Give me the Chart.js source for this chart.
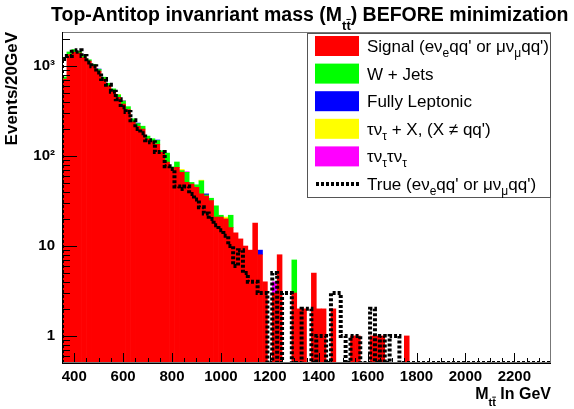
<!DOCTYPE html>
<html>
<head>
<meta charset="utf-8">
<script src="https://cdn.jsdelivr.net/npm/chart.js@4.4.1/dist/chart.umd.min.js"></script>
<style>
  body { margin: 0; background: #fff; }
  canvas { display: block; }
</style>
</head>
<body>
<canvas id="chart" width="574" height="409"></canvas>
<script>
// histogram: 100 bins of 20 GeV, 350 -> 2350
const nBins = 100;
const xMin = 350;
const binWidth = 20;

const signal = [
  720, 1350, 1430, 1400, 1250, 1140, 1000, 880, 720, 600,
  530, 450, 380, 330, 240, 215, 200, 155, 146, 135,
  110, 86, 72, 75, 66, 51, 49, 45, 38, 36,
  32, 21, 21, 20, 16, 14, 12, 10, 9, 18,
  8, 4, 0, 3, 8, 0, 0, 3, 2, 2,
  0, 5, 2, 2, 0, 2, 0, 0, 0, 1,
  1, 0, 0, 1, 1, 1, 0, 0, 0, 0,
  1, 0, 0, 0, 0, 0, 0, 0, 0, 0,
  0, 0, 0, 0, 0, 0, 0, 0, 0, 0,
  0, 0, 0, 0, 0, 0, 0, 0, 0, 0
];
const wJets = [
  40, 90, 100, 60, 50, 40, 50, 40, 35, 45,
  30, 30, 30, 25, 20, 15, 15, 12, 10, 14,
  5, 22, 4, 11, 3, 15, 2, 3, 15, 1,
  2, 7, 1, 0, 6, 0, 0, 0, 0, 0,
  0, 0, 0, 0, 0, 0, 0, 4, 0, 0,
  0, 0, 0, 0, 0, 0, 0, 0, 0, 0,
  0, 0, 0, 0, 0, 0, 0, 0, 0, 0,
  0, 0, 0, 0, 0, 0, 0, 0, 0, 0,
  0, 0, 0, 0, 0, 0, 0, 0, 0, 0,
  0, 0, 0, 0, 0, 0, 0, 0, 0, 0
];
const fullyLep = [
  0, 0, 0, 0, 0, 0, 0, 10, 0, 0,
  0, 0, 0, 0, 0, 3, 0, 0, 0, 2,
  0, 0, 0, 0, 0, 0, 0, 0, 0, 1,
  0, 0, 0, 0, 0, 0, 0, 0, 0, 0,
  1, 0, 0, 0, 0, 0, 0, 0, 0, 0,
  0, 0, 0, 0, 0, 0, 0, 0, 0, 0,
  0, 0, 0, 0, 0, 0, 0, 0, 0, 0,
  0, 0, 0, 0, 0, 0, 0, 0, 0, 0,
  0, 0, 0, 0, 0, 0, 0, 0, 0, 0,
  0, 0, 0, 0, 0, 0, 0, 0, 0, 0
];
const tauX = [
  0, 0, 0, 0, 0, 0, 0, 0, 0, 0,
  0, 5, 0, 0, 0, 0, 0, 0, 0, 0,
  0, 0, 0, 0, 2, 0, 0, 0, 1, 0,
  0, 0, 0, 1, 0, 0, 0, 0, 0, 0,
  0, 0, 0, 0, 0, 0, 0, 0, 0, 0,
  0, 0, 0, 0, 0, 0, 0, 0, 0, 0,
  0, 0, 0, 0, 0, 0, 0, 0, 0, 0,
  0, 0, 0, 0, 0, 0, 0, 0, 0, 0,
  0, 0, 0, 0, 0, 0, 0, 0, 0, 0,
  0, 0, 0, 0, 0, 0, 0, 0, 0, 0
];
const tauTau = [
  0, 0, 0, 0, 0, 0, 0, 0, 0, 0,
  0, 0, 4, 0, 0, 0, 0, 0, 0, 0,
  0, 0, 0, 0, 0, 1, 0, 0, 0, 0,
  0, 0, 0, 0, 0, 0, 0, 0, 0, 0,
  0, 0, 0, 1, 0, 0, 0, 0, 0, 0,
  0, 0, 0, 0, 0, 0, 0, 0, 0, 0,
  0, 0, 0, 0, 0, 0, 0, 0, 0, 0,
  0, 0, 0, 0, 0, 0, 0, 0, 0, 0,
  0, 0, 0, 0, 0, 0, 0, 0, 0, 0,
  0, 0, 0, 0, 0, 0, 0, 0, 0, 0
];
const truth = [
  1200, 1300, 1450, 1500, 1300, 1100, 1000, 850, 720, 620,
  520, 430, 350, 310, 250, 200, 180, 150, 143, 111,
  111, 77, 72, 46, 43, 46, 38, 33, 27, 23,
  20, 17, 15, 13, 10, 6, 9, 5, 4, 4,
  3, 3, 0, 5, 0, 3, 3, 0, 0, 2,
  2, 0, 1, 1, 0, 3, 3, 1, 0, 1,
  1, 0, 0, 2, 0, 1, 0, 1, 1, 0,
  0, 0, 0, 0, 0, 0, 0, 0, 0, 0,
  0, 0, 0, 0, 0, 0, 0, 0, 0, 0,
  0, 0, 0, 0, 0, 0, 0, 0, 0, 0
];

const xTicks = [400, 600, 800, 1000, 1200, 1400, 1600, 1800, 2000, 2200];
const yTicks = [1, 10, 100, 1000];
const yTickLabels = ['1', '10', '10\u00b2', '10\u00b3'];
const yMin = 0.5;
const yMax = 2400;

const seriesColors = ['#ff0000', '#00ff00', '#0000ff', '#ffff00', '#ff00ff'];
// legend text pieces: [text, 1 = subscript]
const legendLabels = [
  [['Signal (e\u03bd', 0], ['e', 1], ['qq\' or \u03bc\u03bd', 0], ['\u03bc', 1], ['qq\')', 0]],
  [['W + Jets', 0]],
  [['Fully Leptonic', 0]],
  [['\u03c4\u03bd', 0], ['\u03c4', 1], [' + X, (X \u2260 qq\')', 0]],
  [['\u03c4\u03bd', 0], ['\u03c4', 1], ['\u03c4\u03bd', 0], ['\u03c4', 1]],
  [['True (e\u03bd', 0], ['e', 1], ['qq\' or \u03bc\u03bd', 0], ['\u03bc', 1], ['qq\')', 0]]
];
const titleParts = [['Top-Antitop invanriant mass (M', 0], ['tt', 2], [') BEFORE minimization', 0]];
const xTitleParts = [['M', 0], ['tt', 2], [' In GeV', 0]];

const FONT = '"Liberation Sans", Arial, Helvetica, sans-serif';

const centers = signal.map((_, i) => xMin + binWidth * (i + 0.5));
const toPoints = (arr) => arr.map((v, i) => ({ x: centers[i], y: v }));

// step outline for the true histogram (zero bins sit on the frame bottom like ROOT)
const truthPoints = [{ x: xMin, y: yMin }];
truth.forEach((v, i) => truthPoints.push({ x: xMin + binWidth * i, y: v > 0 ? v : yMin }));
truthPoints.push({ x: xMin + binWidth * nBins, y: yMin });

function drawRich(ctx, parts, x, y, size, weight, drop) {
  let cx = x;
  parts.forEach(([text, mode]) => {
    const s = mode ? Math.round(size * 0.68) : size;
    const dy = mode ? drop : 0;
    ctx.font = `${weight} ${s}px ${FONT}`;
    ctx.fillText(text, cx, y + dy);
    const w = ctx.measureText(text).width;
    if (mode === 2) {
      const w1 = ctx.measureText(text[0]).width;
      ctx.fillRect(cx + w1, y + dy - s * 0.85, w - w1, 1);
    }
    cx += w;
  });
  return cx - x;
}

function richWidth(ctx, parts, size, weight) {
  let w = 0;
  parts.forEach(([text, mode]) => {
    const s = mode ? Math.round(size * 0.68) : size;
    ctx.font = `${weight} ${s}px ${FONT}`;
    w += ctx.measureText(text).width;
  });
  return w;
}

const rootDecor = {
  id: 'rootDecor',
  afterDatasetsDraw(chart) {
    const { ctx, chartArea: a, scales: { x, y } } = chart;
    ctx.save();
    ctx.strokeStyle = '#000';
    ctx.lineWidth = 1;
    ctx.beginPath();
    for (let v = 400; v < xMin + binWidth * nBins; v += 50) {
      const px = Math.round(x.getPixelForValue(v)) + 0.5;
      const len = v % 200 === 0 ? 10 : 5;
      ctx.moveTo(px, a.bottom);
      ctx.lineTo(px, a.bottom - len);
    }
    [0.1, 1, 10, 100, 1000].forEach(d => {
      for (let m = 1; m <= 9; m++) {
        const v = d * m;
        if (v < yMin || v > yMax) continue;
        const py = Math.round(y.getPixelForValue(v)) + 0.5;
        ctx.moveTo(a.left, py);
        ctx.lineTo(a.left + (m === 1 ? 15 : 8), py);
      }
    });
    ctx.stroke();

    // frame
    ctx.strokeStyle = '#777';
    ctx.strokeRect(a.left + 0.5, a.top + 0.5, a.right - a.left - 1, a.bottom - a.top - 1);
    ctx.strokeStyle = '#000';
    ctx.beginPath();
    ctx.moveTo(a.left + 0.5, a.top);
    ctx.lineTo(a.left + 0.5, a.bottom + 0.5);
    ctx.lineTo(a.right, a.bottom + 0.5);
    ctx.stroke();

    // legend box
    const lx = 307, ly = 33, lw = 243, lh = 164;
    ctx.fillStyle = '#fff';
    ctx.fillRect(lx, ly, lw, lh);
    ctx.strokeStyle = '#555';
    ctx.strokeRect(lx + 0.5, ly + 0.5, lw, lh);
    legendLabels.forEach((parts, i) => {
      const cy = 46 + i * 27.6;
      if (i < seriesColors.length) {
        ctx.fillStyle = seriesColors[i];
        ctx.fillRect(315, cy - 10, 44, 20);
      } else {
        ctx.strokeStyle = '#000';
        ctx.lineWidth = 4;
        ctx.setLineDash([3, 2]);
        ctx.beginPath();
        ctx.moveTo(316, cy);
        ctx.lineTo(359, cy);
        ctx.stroke();
        ctx.setLineDash([]);
        ctx.lineWidth = 1;
      }
      ctx.fillStyle = '#000';
      ctx.textBaseline = 'alphabetic';
      drawRich(ctx, parts, 367, cy + 6, 17, 'normal', 5);
    });
    ctx.restore();
  },
  afterDraw(chart) {
    const { ctx, chartArea: a } = chart;
    ctx.save();
    ctx.fillStyle = '#000';
    ctx.textBaseline = 'alphabetic';
    drawRich(ctx, titleParts, 51, 21, 19.5, 'bold', 9);
    const w = richWidth(ctx, xTitleParts, 16, 'bold');
    drawRich(ctx, xTitleParts, a.right - w, 399, 16, 'bold', 7);
    ctx.restore();
  }
};

const barDefaults = { stack: 'bkg', order: 1, borderWidth: 0, barPercentage: 1, categoryPercentage: 1 };

new Chart(document.getElementById('chart'), {
  type: 'bar',
  data: {
    datasets: [
      {
        type: 'line',
        label: 'True',
        data: truthPoints,
        stack: 'truth',
        order: 0,
        stepped: 'before',
        borderColor: '#000',
        borderWidth: 4,
        borderDash: [3, 2],
        pointRadius: 0,
        fill: false
      },
      Object.assign({ label: 'Signal', data: toPoints(signal), backgroundColor: seriesColors[0] }, barDefaults),
      Object.assign({ label: 'W + Jets', data: toPoints(wJets), backgroundColor: seriesColors[1] }, barDefaults),
      Object.assign({ label: 'Fully Leptonic', data: toPoints(fullyLep), backgroundColor: seriesColors[2] }, barDefaults),
      Object.assign({ label: 'tau + X', data: toPoints(tauX), backgroundColor: seriesColors[3] }, barDefaults),
      Object.assign({ label: 'tau tau', data: toPoints(tauTau), backgroundColor: seriesColors[4] }, barDefaults)
    ]
  },
  plugins: [rootDecor],
  options: {
    responsive: false,
    animation: false,
    events: [],
    layout: { padding: { top: 32, right: 23, left: 0, bottom: 0 } },
    plugins: { legend: { display: false }, tooltip: { enabled: false } },
    scales: {
      x: {
        type: 'linear',
        min: xMin,
        max: xMin + binWidth * nBins,
        offset: false,
        grid: { display: false, drawTicks: false },
        border: { display: false },
        afterBuildTicks: (s) => { s.ticks = xTicks.map(v => ({ value: v })); },
        afterFit: (s) => { s.height = 46; },
        ticks: {
          autoSkip: false,
          maxRotation: 0,
          padding: 5,
          color: '#000',
          font: { family: FONT, size: 15, weight: 'bold' },
          callback: (v, i) => String(xTicks[i])
        }
      },
      y: {
        type: 'logarithmic',
        min: yMin,
        max: yMax,
        stacked: true,
        grid: { display: false, drawTicks: false },
        border: { display: false },
        afterBuildTicks: (s) => { s.ticks = yTicks.map(v => ({ value: v })); },
        afterFit: (s) => { s.width = 62; },
        ticks: {
          autoSkip: false,
          padding: 7,
          color: '#000',
          font: { family: FONT, size: 15, weight: 'bold' },
          callback: (v, i) => yTickLabels[i]
        },
        title: {
          display: true,
          text: 'Events/20GeV',
          align: 'end',
          color: '#000',
          padding: { top: 2, bottom: 0 },
          font: { family: FONT, size: 17, weight: 'bold' }
        }
      }
    }
  }
});
</script>
</body>
</html>
